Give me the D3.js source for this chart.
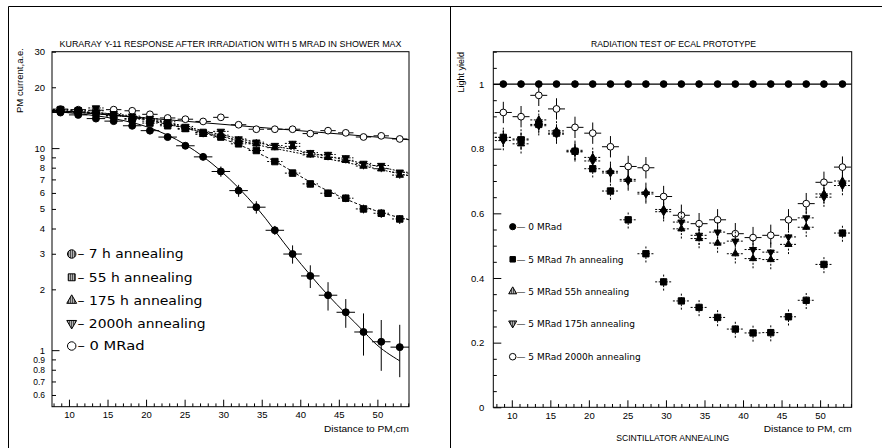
<!DOCTYPE html>
<html><head><meta charset="utf-8">
<script src="https://cdn.jsdelivr.net/npm/d3@7"></script>
<style>
body{margin:0;background:#fff}
svg{display:block;background:#fff}
text{font-family:"Liberation Sans",Arial,sans-serif;fill:#000}
.lg{font-family:"DejaVu Sans",sans-serif}
</style></head><body><svg id="c" width="882" height="448"></svg>
<script>
// Scintillator positions along the tile (cm from the photomultiplier)
const distanceCm = [8.9, 11.2, 13.5, 15.8, 18.2, 20.5, 22.8, 25.1, 27.4, 29.7, 32.0, 34.3, 36.7, 39.0, 41.3, 43.6, 45.9, 48.2, 50.5, 52.9];

// Left panel: Kuraray Y-11 PM current (a.e.)
const pm7h    = [15.0, 14.6, 14.0, 13.6, 12.9, 12.2, 11.34, 10.27, 9.05, 7.66, 6.16, 5.10, 3.92, 2.99, 2.33, 1.87, 1.54, 1.23, 1.10, 1.035];
const pm7hErr = [0.3, 0.3, 0.3, 0.3, 0.3, 0.3, 0.35, 0.35, 0.35, 0.45, 0.42, 0.36, 0.2, 0.31, 0.3, 0.3, 0.25, 0.29, 0.31, 0.3];
const pm55h   = [15.5, 15.3, 14.9, 14.5, 13.9, 13.3, 12.9, 12.5, 11.95, 11.34, 10.5, 9.73, 8.58, 7.52, 6.65, 5.98, 5.65, 5.0, 4.76, 4.46];
const pm175h  = [15.3, 15.1, 15.3, 14.4, 14.0, 13.6, 13.1, 12.4, 11.7, 11.6, 10.85, 10.5, 10.05, 10.2, 9.25, 9.0, 8.7, 8.15, 7.9, 7.35];
const pm2000h = [15.5, 15.4, 15.8, 14.8, 14.4, 14.0, 13.5, 12.8, 11.9, 12.1, 11.1, 10.7, 10.3, 10.55, 9.5, 9.3, 8.95, 8.4, 8.2, 7.6];
const pm0MRad = [15.6, 15.5, 15.4, 15.5, 15.3, 14.7, 14.1, 13.9, 13.55, 14.2, 13.05, 12.4, 12.4, 12.4, 11.8, 12.2, 11.9, 11.35, 11.5, 11.1];
const pm55hErr = 0.25, pm175hErr = 0.3, pm2000hErr = 0.3, pm0MRadErr = 0.25;
const pm7hXErr = 1.2, pmXErr = 1.0;

// Fitted curves for the left panel
const fit7hX    = [7.8, 11.2, 15.8, 20.5, 25.1, 29.7, 34.3, 39.0, 43.6, 48.2, 49.5, 52.9];
const fit7h     = [15.2, 14.8, 14.0, 12.6, 10.4, 7.7, 5.1, 3.0, 1.87, 1.24, 1.10, 0.885];
const fit55hX   = [7.8, 13.5, 18.2, 22.8, 27.4, 32.0, 36.7, 41.3, 45.9, 50.5, 54.1];
const fit55h    = [15.3, 14.9, 14.2, 13.1, 11.9, 10.4, 8.6, 6.8, 5.6, 4.8, 4.42];
const fitTriX   = [7.8, 13.5, 20.5, 27.4, 34.3, 41.3, 48.2, 54.1];
const fit175h   = [15.2, 14.8, 13.8, 12.0, 10.4, 9.2, 8.15, 7.3];
const fit2000h  = [15.3, 15.0, 14.0, 12.2, 10.7, 9.45, 8.4, 7.5];
const fit0MRadX = [7.8, 54.1];
const fit0MRad  = [15.4, 11.0];

const pmTicks = [0.6, 0.7, 0.8, 0.9, 1, 2, 3, 4, 5, 6, 7, 8, 9, 10, 20, 30];
const pmLegend = ["– 7 h annealing", "– 55 h annealing", "– 175 h annealing", "– 2000h annealing", "– 0 MRad"];

// Right panel: ECAL prototype light yield
const ly0MRad  = [1, 1, 1, 1, 1, 1, 1, 1, 1, 1, 1, 1, 1, 1, 1, 1, 1, 1, 1, 1];
const ly7h     = [0.835, 0.827, 0.875, 0.848, 0.792, 0.738, 0.669, 0.580, 0.475, 0.388, 0.329, 0.309, 0.278, 0.242, 0.230, 0.231, 0.280, 0.331, 0.442, 0.539];
const ly55h    = [0.835, 0.815, 0.889, 0.855, 0.795, 0.773, 0.730, 0.705, 0.665, 0.612, 0.552, 0.522, 0.508, 0.475, 0.460, 0.457, 0.504, 0.557, 0.660, 0.700];
const ly175h   = [0.825, 0.830, 0.871, 0.845, 0.790, 0.762, 0.725, 0.700, 0.660, 0.605, 0.573, 0.532, 0.542, 0.514, 0.488, 0.480, 0.527, 0.586, 0.650, 0.686];
const ly2000h  = [0.912, 0.899, 0.965, 0.923, 0.866, 0.848, 0.806, 0.745, 0.741, 0.652, 0.594, 0.568, 0.580, 0.537, 0.525, 0.532, 0.580, 0.630, 0.696, 0.743];
const ly7hErr = 0.027, lyTriErr = 0.03, ly2000hErr = 0.033, lyXErr = 1.1;
const lyTicks = [0, 0.2, 0.4, 0.6, 0.8, 1];
const lyLegend = ["— 0 MRad", "— 5 MRad 7h annealing", "— 5 MRad 55h annealing", "— 5 MRad 175h annealing", "— 5 MRad 2000h annealing"];

const svg = d3.select("#c");
const defs = svg.append("defs");
defs.append("pattern").attr("id", "hatch").attr("width", 2).attr("height", 2)
  .attr("patternUnits", "userSpaceOnUse")
  .append("rect").attr("width", 1).attr("height", 2).attr("fill", "#000");

// outer frame lines
svg.append("path").attr("d", "M8.5,448V6.5H882M450.5,6.5V448")
  .attr("fill", "none").attr("stroke", "#000").attr("stroke-width", 1);

const L = {x0: 52, x1: 409, y0: 51.7, y1: 406.7};
const R = {x0: 493.3, x1: 851.7, y0: 51.7, y1: 407.3};

const xL = d3.scaleLinear().domain([7.8, 54.1]).range([L.x0, L.x1]);
const yL = d3.scaleLog().domain([0.525, 30]).range([L.y1, L.y0]);
const xR = d3.scaleLinear().domain([7.6, 54.1]).range([R.x0, R.x1]);
const yR = d3.scaleLinear().domain([0, 1.1]).range([R.y1, R.y0]);

function clip(id, P) {
  defs.append("clipPath").attr("id", id).append("rect")
    .attr("x", P.x0).attr("y", P.y0).attr("width", P.x1 - P.x0).attr("height", P.y1 - P.y0);
}
clip("clipL", L); clip("clipR", R);

function symbolPath(type, size) { return d3.symbol().type(type).size(size)(); }

function series(g, x, y, xs, vs, err, xerr, st) {
  const e = i => Array.isArray(err) ? err[i] : err;
  const bars = g.append("g").attr("stroke", "#000").attr("stroke-width", 1)
    .attr("stroke-dasharray", st.dash || null);
  xs.forEach((d, i) => {
    if (e(i) > 0) bars.append("line").attr("x1", x(d)).attr("x2", x(d))
      .attr("y1", y(vs[i] - e(i))).attr("y2", y(vs[i] + e(i)));
    if (xerr > 0) bars.append("line").attr("y1", y(vs[i])).attr("y2", y(vs[i]))
      .attr("x1", x(d - xerr)).attr("x2", x(d + xerr));
  });
  g.append("g").selectAll("path").data(xs).join("path")
    .attr("d", symbolPath(st.type, st.size))
    .attr("transform", (d, i) => `translate(${x(d)},${y(vs[i])})${st.down ? " rotate(180)" : ""}`)
    .attr("fill", st.open ? "#fff" : "#000").attr("stroke", "#000").attr("stroke-width", 1);
}

function fitLine(g, x, y, fx, fv, dash, curve) {
  g.append("path").datum(fx)
    .attr("d", d3.line().x(d => x(d)).y((d, i) => y(fv[i])).curve(curve))
    .attr("fill", "none").attr("stroke", "#000").attr("stroke-width", 1)
    .attr("stroke-dasharray", dash || null);
}

function frame(P) {
  svg.append("rect").attr("x", P.x0).attr("y", P.y0).attr("width", P.x1 - P.x0).attr("height", P.y1 - P.y0)
    .attr("fill", "none").attr("stroke", "#000").attr("stroke-width", 1);
}

function xAxis(P, x) {
  const ax = svg.append("g").attr("transform", `translate(0,${P.y1})`)
    .call(d3.axisBottom(x).tickValues(d3.range(8, 55)).tickSize(-3.3).tickPadding(5)
      .tickFormat(d => d % 5 === 0 ? d : ""));
  ax.select(".domain").remove();
  ax.selectAll(".tick line").filter(d => d % 5 === 0).attr("y2", -7);
  ax.selectAll("text").attr("font-size", 9.5).attr("font-family", "Liberation Sans, Arial, sans-serif");
}

// ---------- left panel ----------
const gL = svg.append("g").attr("clip-path", "url(#clipL)");
fitLine(gL, xL, yL, fit0MRadX, fit0MRad, null, d3.curveLinear);
fitLine(gL, xL, yL, fit7hX, fit7h, null, d3.curveMonotoneX);
fitLine(gL, xL, yL, fit55hX, fit55h, "3,2", d3.curveMonotoneX);
fitLine(gL, xL, yL, fitTriX, fit175h, "2,1.5", d3.curveMonotoneX);
fitLine(gL, xL, yL, fitTriX, fit2000h, "2,1.5", d3.curveMonotoneX);
series(gL, xL, yL, distanceCm, pm0MRad, pm0MRadErr, pmXErr, {type: d3.symbolCircle, size: 36, open: true});
series(gL, xL, yL, distanceCm, pm55h, pm55hErr, pmXErr, {type: d3.symbolSquare, size: 42, dash: "2,1.5"});
series(gL, xL, yL, distanceCm, pm175h, pm175hErr, pmXErr, {type: d3.symbolTriangle, size: 24, dash: "2,1.5"});
series(gL, xL, yL, distanceCm, pm2000h, pm2000hErr, pmXErr, {type: d3.symbolTriangle, size: 24, down: true, dash: "2,1.5"});
series(gL, xL, yL, distanceCm, pm7h, pm7hErr, pm7hXErr, {type: d3.symbolCircle, size: 38});
frame(L);
xAxis(L, xL);
const ayL = svg.append("g").attr("transform", `translate(${L.x0},0)`)
  .call(d3.axisLeft(yL).tickValues(pmTicks).tickSize(-4).tickPadding(7).tickFormat(d => d));
ayL.select(".domain").remove();
ayL.selectAll(".tick line").filter(d => d === 1 || d === 10).attr("x2", 7.5);
ayL.selectAll("text").attr("font-family", "Liberation Sans, Arial, sans-serif")
  .attr("font-size", d => d < 1 ? 8.5 : 9.5);

svg.append("text").attr("x", 230.5).attr("y", 47).attr("text-anchor", "middle")
  .attr("font-size", 8.5).attr("textLength", 342).attr("lengthAdjust", "spacingAndGlyphs")
  .text("KURARAY Y-11 RESPONSE AFTER IRRADIATION WITH 5 MRAD IN SHOWER MAX");
svg.append("text").attr("transform", "translate(23,48) rotate(-90)").attr("text-anchor", "end")
  .attr("font-size", 9).attr("textLength", 65).attr("lengthAdjust", "spacingAndGlyphs")
  .text("PM current,a.e.");
svg.append("text").attr("x", 409).attr("y", 432).attr("text-anchor", "end")
  .attr("font-size", 9.5).attr("textLength", 85).attr("lengthAdjust", "spacingAndGlyphs")
  .text("Distance to PM,cm");

// legend, left panel
const legL = svg.append("g");
const legLRows = [254, 277.3, 300.5, 323.3, 346];
const legLWidths = [106, 115, 125, 128, 67];
const legLSym = [
  {type: d3.symbolCircle, size: 56},
  {type: d3.symbolSquare, size: 48},
  {type: d3.symbolTriangle, size: 42},
  {type: d3.symbolTriangle, size: 42, down: true},
  {type: d3.symbolCircle, size: 56, open: true}
];
legLSym.forEach((s, i) => {
  legL.append("path").attr("d", symbolPath(s.type, s.size))
    .attr("transform", `translate(71.7,${legLRows[i]})${s.down ? " rotate(180)" : ""}`)
    .attr("fill", s.open ? "#fff" : "url(#hatch)").attr("stroke", "#000").attr("stroke-width", 1);
  legL.append("text").attr("class", "lg").attr("x", 77.5).attr("y", legLRows[i] + 4.3)
    .attr("font-size", 12).attr("textLength", legLWidths[i]).attr("lengthAdjust", "spacingAndGlyphs")
    .text(pmLegend[i]);
});

// ---------- right panel ----------
const gR = svg.append("g").attr("clip-path", "url(#clipR)");
gR.append("path").datum(distanceCm)
  .attr("d", d3.line().x(d => xR(d)).y((d, i) => yR(ly0MRad[i])).curve(d3.curveLinear))
  .attr("stroke", "#000").attr("stroke-width", 1.2).attr("fill", "none");
gR.append("line").attr("x1", R.x0).attr("x2", xR(distanceCm[0])).attr("y1", yR(ly0MRad[0])).attr("y2", yR(ly0MRad[0]))
  .attr("stroke", "#000").attr("stroke-width", 1.2);
gR.append("line").attr("x1", xR(distanceCm[19])).attr("x2", R.x1).attr("y1", yR(ly0MRad[19])).attr("y2", yR(ly0MRad[19]))
  .attr("stroke", "#000").attr("stroke-width", 1.2);
series(gR, xR, yR, distanceCm, ly2000h, ly2000hErr, lyXErr, {type: d3.symbolCircle, size: 36, open: true});
series(gR, xR, yR, distanceCm, ly55h, lyTriErr, lyXErr, {type: d3.symbolTriangle, size: 22, dash: "2,1.5"});
series(gR, xR, yR, distanceCm, ly175h, lyTriErr, lyXErr, {type: d3.symbolTriangle, size: 22, down: true, dash: "2,1.5"});
series(gR, xR, yR, distanceCm, ly7h, ly7hErr, lyXErr, {type: d3.symbolSquare, size: 40, dash: "2,1.5"});
series(gR, xR, yR, distanceCm, ly0MRad, 0, 0, {type: d3.symbolCircle, size: 36});
frame(R);
xAxis(R, xR);
const ayR = svg.append("g").attr("transform", `translate(${R.x0},0)`)
  .call(d3.axisLeft(yR).tickValues(d3.range(0, 1.101, 0.05)).tickSize(-3.5).tickPadding(9)
    .tickFormat(d => lyTicks.some(t => Math.abs(t - d) < 1e-6) ? d3.format("~g")(+d.toFixed(2)) : ""));
ayR.select(".domain").remove();
ayR.selectAll(".tick line").filter(d => lyTicks.some(t => Math.abs(t - d) < 1e-6)).attr("x2", 8);
ayR.selectAll("text").attr("font-family", "Liberation Sans, Arial, sans-serif").attr("font-size", 9.5);

svg.append("text").attr("x", 673.5).attr("y", 47).attr("text-anchor", "middle")
  .attr("font-size", 8.5).attr("textLength", 165).attr("lengthAdjust", "spacingAndGlyphs")
  .text("RADIATION TEST OF ECAL PROTOTYPE");
svg.append("text").attr("transform", "translate(464,52) rotate(-90)").attr("text-anchor", "end")
  .attr("font-size", 9).text("Light yield");
svg.append("text").attr("x", 851.7).attr("y", 432).attr("text-anchor", "end")
  .attr("font-size", 9.5).attr("textLength", 88).attr("lengthAdjust", "spacingAndGlyphs")
  .text("Distance to PM, cm");
svg.append("text").attr("x", 672.7).attr("y", 440.5).attr("text-anchor", "middle")
  .attr("font-size", 9).attr("textLength", 113).attr("lengthAdjust", "spacingAndGlyphs")
  .text("SCINTILLATOR ANNEALING");

// legend, right panel
const legR = svg.append("g");
const legRRows = [226.7, 259.3, 291.5, 323.3, 356.7];
const legRSym = [
  {type: d3.symbolCircle, size: 30},
  {type: d3.symbolSquare, size: 30},
  {type: d3.symbolTriangle, size: 28, hatch: true},
  {type: d3.symbolTriangle, size: 28, down: true, hatch: true},
  {type: d3.symbolCircle, size: 34, open: true}
];
legRSym.forEach((s, i) => {
  legR.append("path").attr("d", symbolPath(s.type, s.size))
    .attr("transform", `translate(512.7,${legRRows[i]})${s.down ? " rotate(180)" : ""}`)
    .attr("fill", s.open ? "#fff" : (s.hatch ? "url(#hatch)" : "#000")).attr("stroke", "#000").attr("stroke-width", 1);
  legR.append("text").attr("class", "lg").attr("x", 516.5).attr("y", legRRows[i] + 3.3)
    .attr("font-size", 9).text(lyLegend[i]);
});
</script></body></html>
